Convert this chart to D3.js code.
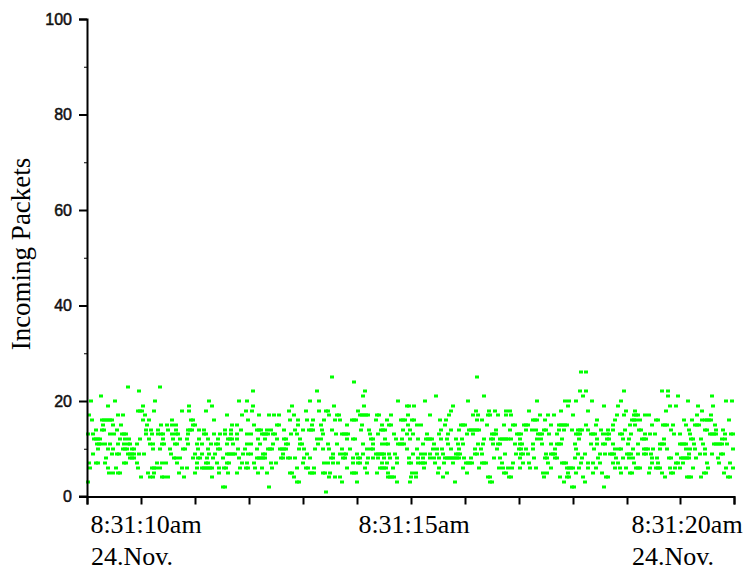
<!DOCTYPE html>
<html>
<head>
<meta charset="utf-8">
<script src="https://cdn.jsdelivr.net/npm/d3@7"></script>
<style>
  html, body { margin: 0; padding: 0; background: #fff; }
  svg { display: block; }
  .y-ticks text { font-family: "Liberation Sans", Arial, sans-serif; font-size: 16px; fill: #111; stroke: #111; stroke-width: 0.5px; }
  .serif { font-family: "Liberation Serif", "Times New Roman", serif; fill: #000; }
</style>
</head>
<body>
<div id="chart"></div>
<script>
// packet count per sample: each list holds the sample numbers where that count was seen
const at1 = [239];
const at2 = [136,138,182,485,487,517];
const at3 = [1,210,212,255,270,310,323,368,403,405,477,498];
const at4 = [54,63,66,75,77,81,97,125,207,242,248,253,301,303,305,307,324,329,356,401,403,422,424,457,473,480,482,496,519,521,578,600,602,604,614,641,643];
const at5 = [22,26,31,33,61,67,92,108,132,141,150,171,180,203,205,223,225,227,236,238,243,265,267,269,280,290,301,325,329,351,360,380,417,419,456,460,481,489,506,515,534,543,545,562,575,584,586,617,619,637];
const at6 = [3,21,29,51,65,67,69,73,95,100,110,115,117,119,121,123,125,132,137,139,153,159,161,168,175,185,210,219,221,227,260,278,293,295,297,299,306,337,352,376,392,412,416,421,425,433,443,449,464,480,482,484,486,492,501,509,528,533,539,549,551,553,563,569,571,573,583,588,593,606,621,639,646];
const at7 = [2,9,11,18,37,39,50,70,75,79,90,110,119,121,130,140,142,155,160,167,184,189,216,237,241,246,251,266,271,273,280,295,300,310,322,324,331,334,336,338,348,357,366,379,381,383,385,395,397,399,415,426,436,442,461,475,477,479,494,501,506,513,526,531,547,565,571,589,591,596,620,632,643];
const at8 = [19,43,45,47,87,89,93,106,111,113,120,126,136,152,170,172,174,176,178,194,196,201,203,208,217,223,244,246,256,258,266,271,273,281,286,291,297,303,310,322,331,336,343,347,352,358,360,362,364,366,368,370,372,377,384,407,413,433,447,458,460,468,470,488,495,511,529,536,542,546,565,570,582,584,594,596,598,600,602,609,631];
const at9 = [6,25,30,32,41,43,45,47,52,57,84,108,115,122,128,140,142,144,146,148,156,161,164,176,178,196,220,246,253,257,259,270,276,289,291,293,295,297,302,308,326,334,338,343,350,356,369,371,373,388,390,395,418,429,434,436,441,459,464,466,468,491,498,513,518,523,525,527,540,542,544,551,557,559,564,590,602,613,618,625,634,636];
const at10 = [11,21,26,36,38,40,45,47,66,73,83,96,98,111,121,131,133,151,158,170,181,183,185,193,195,197,199,212,217,228,236,242,255,263,280,284,286,320,330,346,350,355,364,372,388,394,410,432,434,439,446,468,489,507,528,532,534,546,557,559,561,566,573,580,599,603,608,618,646];
const at11 = [10,12,14,18,23,31,37,41,43,50,63,66,75,77,88,90,101,110,115,124,129,131,140,146,160,164,173,186,199,201,213,215,231,241,250,276,286,295,299,301,311,313,315,317,336,347,361,371,376,391,396,406,411,413,428,433,435,446,455,464,470,472,474,488,504,510,516,518,526,541,551,573,575,577,593,595,597,599,607,616,627,629,631,633,635,640];
const at12 = [7,9,11,13,33,38,42,53,62,76,86,93,100,112,121,131,141,143,145,150,171,178,190,197,199,213,230,234,260,266,268,284,286,298,309,315,323,331,339,341,343,345,354,360,369,375,397,404,406,413,415,417,419,421,424,433,450,454,475,492,510,520,522,536,542,555,557,559,577,604,606,614,635,638];
const at13 = [1,6,23,27,35,37,39,59,65,71,74,76,85,89,91,101,117,119,127,133,138,144,150,160,164,175,177,179,181,186,188,204,210,236,249,255,257,259,261,283,291,307,320,326,340,352,361,380,386,405,407,409,430,432,434,451,453,455,462,470,489,491,493,504,506,508,516,520,522,533,535,544,558,563,568,587,593,603,623,625,627,629,638,644,646];
const at14 = [9,15,17,30,59,64,71,81,89,101,103,105,112,117,138,144,154,170,172,174,180,184,197,208,216,222,224,226,235,245,274,282,294,296,298,316,323,354,364,372,382,384,386,388,390,392,409,423,439,445,449,457,459,472,477,485,491,493,495,501,514,521,526,538,552,554,584,602,618,620,629,636];
const at15 = [16,26,34,60,74,80,85,89,106,108,145,150,167,190,192,211,225,234,260,275,295,302,304,321,330,334,358,374,376,378,400,417,426,428,437,439,441,464,472,474,476,478,480,499,509,526,543,548,565,576,578,580,586,599,608,610,612,628];
const at16 = [5,15,17,19,21,23,25,56,62,85,104,106,127,161,203,211,220,226,237,248,253,265,267,269,289,300,314,316,318,325,327,353,359,390,395,446,448,450,458,510,528,545,547,549,553,569,571,597,605,615,618,620,622,624,642];
const at17 = [2,31,36,58,140,155,172,182,187,192,207,242,250,252,273,275,277,279,281,290,292,304,321,343,362,386,391,401,403,411,419,424,453,461,467,486,530,537,547,549,551,558,562,610,624];
const at18 = [51,53,55,67,95,102,119,159,165,202,219,232,239,241,271,364,389,402,408,419,423,442,474,501,539,548,579,615];
const at19 = [21,56,102,125,166,205,247,277,320,322,327,366,481,517,531,583,589,611,626];
const at20 = [4,28,68,122,152,160,223,232,311,338,381,450,478,482,489,505,534,601,639,645];
const at21 = [14,276,349,397,496,581,591,625];
const at22 = [52,166,230,278,493,499,537,575,581];
const at23 = [41,73];
const at24 = [267];
const at25 = [245,390];
const at26 = [494,499];

const countLists = [at1,at2,at3,at4,at5,at6,at7,at8,at9,at10,at11,at12,at13,at14,at15,at16,at17,at18,at19,at20,at21,at22,at23,at24,at25,at26];

const yMajor = [0,20,40,60,80,100];
const yMinor = [10,30,50,70,90];
const xTicks = [0,54,108,162,216,270,324,378,432,486,540,593,647];
const timeLabels = ['8:31:10am','8:31:15am','8:31:20am'];
const dateLabels = ['24.Nov.','','24.Nov.'];
const labelSamples = [59,327,600];

// flatten into one row per sample
const samples = [];
countLists.forEach((list, i) => {
  list.forEach(s => samples.push({ sample: s, packets: i + 1 }));
});

const width = 747, height = 576;
const svg = d3.select('#chart').append('svg')
  .attr('width', width)
  .attr('height', height);

const x = d3.scaleLinear().domain([0, 647]).range([87, 734]);
const y = d3.scaleLinear().domain([0, 100]).range([496.5, 19]);

// points first, axes on top
svg.append('g').selectAll('rect')
  .data(samples)
  .enter()
  .append('rect')
  .attr('x', d => Math.round(x(d.sample)) - 2)
  .attr('y', d => Math.round(y(d.packets)) - 1.5)
  .attr('width', 4)
  .attr('height', 3)
  .attr('fill', '#00ff00');

const yAxis = svg.append('g').attr('class', 'y-ticks')
  .attr('transform', 'translate(87,0)')
  .call(d3.axisLeft(y).tickValues(yMajor).tickSize(8).tickPadding(7));
const yMinorAxis = svg.append('g')
  .attr('transform', 'translate(87,0)')
  .call(d3.axisLeft(y).tickValues(yMinor).tickSize(3).tickFormat(''));

const xAxis = svg.append('g')
  .attr('transform', 'translate(0,496.5)')
  .call(d3.axisBottom(x).tickValues(xTicks).tickSize(8).tickFormat(''));

[yAxis, yMinorAxis, xAxis].forEach(g => {
  g.selectAll('.domain').attr('stroke', '#000').attr('stroke-width', 2);
  g.selectAll('.tick line').attr('stroke', '#000').attr('stroke-width', 2);
});
yAxis.selectAll('.tick text').attr('text-anchor', 'end');
yMinorAxis.select('.domain').remove();
yMinorAxis.selectAll('.tick line').attr('stroke-width', 1);

// the zero tick runs on past the corner, so the x line starts left of the y line
svg.append('line')
  .attr('x1', 79).attr('x2', 87)
  .attr('y1', y(0)).attr('y2', y(0))
  .attr('stroke', '#000').attr('stroke-width', 2);

svg.append('g').selectAll('text')
  .data(timeLabels)
  .enter()
  .append('text')
  .attr('class', 'serif')
  .attr('x', (d, i) => x(labelSamples[i]))
  .attr('y', 533)
  .attr('text-anchor', 'middle')
  .style('font-size', '26px')
  .text(d => d);

svg.append('g').selectAll('text')
  .data(dateLabels)
  .enter()
  .append('text')
  .attr('class', 'serif')
  .attr('x', (d, i) => x(labelSamples[i]) - 14)
  .attr('y', 565)
  .attr('text-anchor', 'middle')
  .style('font-size', '26px')
  .text(d => d);

svg.append('text')
  .attr('class', 'serif')
  .attr('transform', 'translate(30,254) rotate(-90)')
  .attr('text-anchor', 'middle')
  .style('font-size', '27px')
  .text('Incoming Packets');
</script>
</body>
</html>
